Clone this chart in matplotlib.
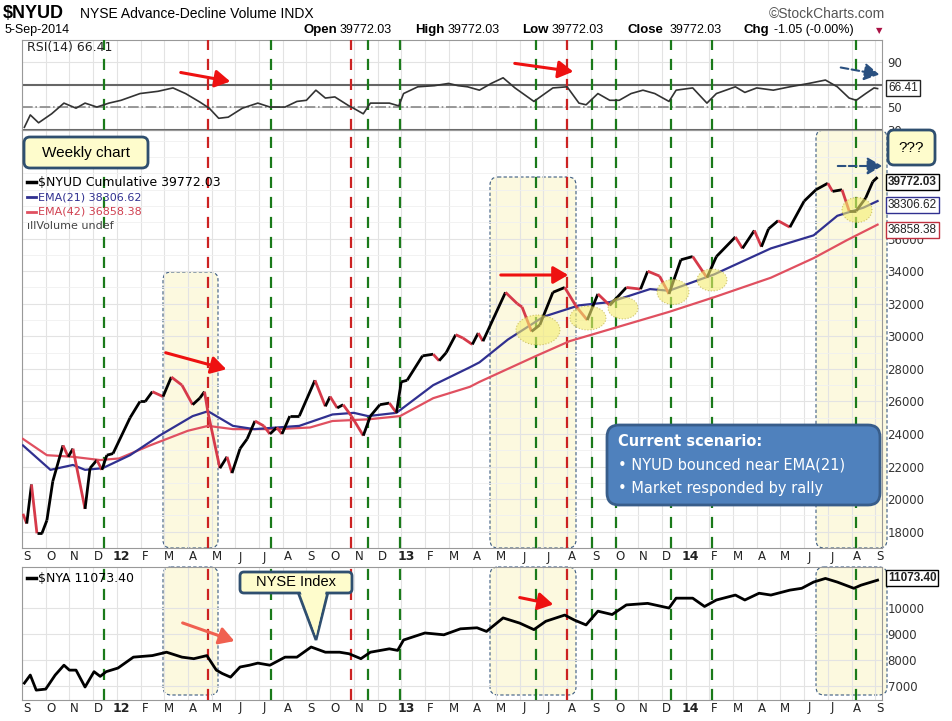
import matplotlib
matplotlib.use("Agg")
import matplotlib.pyplot as plt
from matplotlib.collections import LineCollection
from matplotlib.patches import FancyBboxPatch, Ellipse, Polygon, FancyArrowPatch

# ---- data (t = months since 1-Sep-2011) ----
rsi_t = [0.1,0.35,0.7,1.25,1.77,2.28,2.66,3.16,3.67,4.18,4.98,5.74,6.37,6.9,7.5,7.9,8.3,8.7,9.3,9.95,10.46,11.1,11.6,12.0,12.4,12.8,13.2,13.8,13.9,14.4,14.7,15.5,15.9,16.1,16.7,17.4,18.0,18.4,18.8,19.3,19.8,20.3,20.8,21.6,22.4,23.0,23.5,23.8,24.3,24.8,25.2,25.7,26.2,26.7,27.3,27.6,28.3,28.9,29.3,30.1,30.5,31.0,31.7,32.4,33.2,33.9,34.4,34.9,35.2,35.6,35.95,36.1]
rsi_v = [32,43,36,44,53.5,49,53.5,50,53.5,56,62,64,67,62,54.5,49,40,41,49,53.5,50,50,55,56,65,58,59,51,50,44,53.5,53.5,51,62,68,69,71,69,68,65,71,76,67,55,67,68,53.5,52,62,56,56,62,65,62,55,65,67,53.5,62,68,63,67,65,68,71,74,68,58,56,62,67,66.41]

nyud_t = [0.04,0.2,0.4,0.63,0.84,1.05,1.3,1.73,1.95,2.15,2.66,2.87,3.16,3.37,3.58,3.84,4.56,4.98,5.2,5.5,5.95,6.3,6.75,7.2,7.5,7.7,7.85,8.35,8.65,8.86,9.2,9.5,9.83,10.2,10.46,10.75,10.97,11.3,11.7,12.36,12.8,13.0,13.3,13.55,13.9,14.4,14.7,15.1,15.5,15.8,16.0,16.25,16.9,17.35,17.6,17.9,18.3,18.6,19.0,19.25,19.45,20.4,20.9,21.1,21.5,21.85,22.4,22.9,23.4,23.85,24.3,24.8,25.5,26.1,26.4,26.9,27.3,27.8,28.3,28.9,29.3,30.1,30.4,30.9,31.2,31.5,31.9,32.4,33.0,33.5,34.0,34.2,34.6,34.9,35.2,35.6,35.9,36.1]
nyud_v = [19100,18500,20900,17900,17900,18700,21100,23300,22600,23100,19400,21900,22400,21800,22700,22800,25000,26000,26000,26600,26300,27500,27000,25800,26200,26600,25300,21900,22600,21600,23100,23700,24800,24500,24000,24400,24000,25100,25100,27300,25700,26300,25600,25800,25100,23900,25100,25800,25900,25300,27200,27300,28800,28900,28500,29000,30100,29900,29500,30200,29700,32700,32000,31800,30300,30700,32700,33000,31800,31000,32600,31900,33000,32900,34000,33700,32600,34700,34900,33600,34900,36100,35400,36500,35500,36600,37100,36700,38300,39000,39400,38900,39000,37700,37700,38500,39500,39772.03]

ema21_t = [0.04,1.2,2.15,2.66,3.4,4.56,5.8,7.2,7.85,8.9,9.8,11.7,13.1,14.0,14.6,15.8,17.35,18.9,19.3,20.5,22.0,23.5,24.8,26.5,27.3,29.2,31.6,33.4,34.4,35.5,36.1]
ema21_v = [23300,21800,22100,21800,21900,22700,23900,25100,25400,24500,24300,24500,25200,25300,25100,25300,27000,28100,28400,29800,31200,31900,32100,32900,32800,33800,35400,36200,37400,37900,38306.62]

ema42_t = [0.04,1.05,2.15,3.3,4.1,5.4,7.0,7.85,8.9,10.75,12.15,13.1,14.6,15.95,17.35,18.9,19.3,21.7,23.1,25.2,27.3,29.2,31.6,33.4,34.8,36.1]
ema42_v = [23700,22700,22600,22400,22500,23300,24200,24500,24300,24300,24400,24800,24900,25100,26200,26900,27200,28800,29700,30600,31500,32400,33600,34800,35900,36858.38]

nya_t = [0.1,0.35,0.6,1.0,1.4,1.77,2.0,2.28,2.66,3.04,3.3,3.55,4.05,4.7,5.5,6.1,6.75,7.25,7.8,8.2,8.45,8.8,9.2,9.6,9.95,10.46,11.1,11.6,12.2,12.8,13.4,13.8,14.3,14.7,15.5,15.85,16.1,17.0,17.8,18.5,19.2,19.6,20.3,21.0,21.6,22.1,22.9,23.3,23.8,24.3,24.9,25.5,26.4,27.3,27.6,28.3,28.8,29.3,30.1,30.5,31.1,31.6,32.4,32.9,33.4,33.9,34.4,35.1,35.4,36.1]
nya_v = [7110,7420,6840,6880,7420,7800,7610,7610,6960,7550,7370,7550,7690,8110,8170,8300,8110,8050,8170,7610,7480,7340,7730,7800,7880,7800,8110,8110,8500,8300,8300,8240,8050,8300,8430,8370,8770,9040,8970,9200,9240,9100,9620,9420,9170,9490,9730,9540,9350,9880,9750,10120,10180,10000,10380,10380,10060,10310,10500,10310,10570,10500,10690,10760,11000,11140,11000,10760,10880,11073.40]

month_labels = ["S","O","N","D","12","F","M","A","M","J","J","A","S","O","N","D","13","F","M","A","M","J","J","A","S","O","N","D","14","F","M","A","M","J","J","A","S"]
green_lines = [3.48,10.5,14.6,15.93,21.67,24.05,25.07,27.4,29.1,35.2]
red_lines = [7.85,13.9,23.0]
rsi_ticks = [30,50,90]
nyud_ticks = [18000,20000,22000,24000,26000,28000,30000,32000,34000,36000]
nya_ticks = [7000,8000,9000,10000]

W, H = 952, 721
fig = plt.figure(figsize=(W/100, H/100), dpi=100)
X0, X1 = 22, 882
TMAX = (X1 - X0) / 23.7

bg = fig.add_axes([0, 0, 1, 1], zorder=0)
bg.set_xlim(0, W); bg.set_ylim(H, 0); bg.axis("off")

def ax_at(y0, y1):
    a = fig.add_axes([X0/W, 1-y1/H, (X1-X0)/W, (y1-y0)/H], zorder=2)
    a.patch.set_alpha(0)
    return a

ax_r = ax_at(40, 130)
ax_m = ax_at(130, 548)
ax_n = ax_at(567, 700)
GRID = "#e3e3e3"
for a, lo, hi, ticks in [(ax_r, 29.6, 109.6, rsi_ticks), (ax_m, 17330, 42670, nyud_ticks), (ax_n, 6460, 11580, nya_ticks)]:
    a.set_xlim(0, TMAX); a.set_ylim(lo, hi)
    a.set_xticks(range(0, 37)); a.set_xticklabels([])
    a.tick_params(axis="x", length=0)
    a.yaxis.tick_right()
    a.set_yticks(ticks)
    a.set_yticklabels([str(t) for t in ticks], fontsize=8.5, color="#333333")
    a.tick_params(axis="y", length=0, pad=4)
    a.grid(True, color=GRID, lw=0.8)
    for s in a.spines.values():
        s.set_color("#999999"); s.set_linewidth(0.8)
    for g in green_lines:
        a.axvline(g, color="#1a7a1a", ls=(0, (5, 4)), lw=1.6, zorder=3)
    for r in red_lines:
        a.axvline(r, color="#cc2222", ls=(0, (5, 4)), lw=1.6, zorder=3)
ax_m.set_yticks([17000+i*1000 for i in range(26)], minor=True)
ax_m.tick_params(axis="y", which="minor", length=0)
ax_m.grid(True, which="minor", axis="y", color="#f0f0f0", lw=0.6)

ax_r.plot(rsi_t, rsi_v, color="#333333", lw=1.2, zorder=4)
ax_r.axhline(70, color="#666666", lw=1.5, zorder=2)
ax_r.axhline(30, color="#666666", lw=1.5, zorder=2)
ax_r.axhline(50, color="#888888", lw=1.2, ls="-.", zorder=2)

def updown(ax, t, v, lw):
    segs = [[(t[i], v[i]), (t[i+1], v[i+1])] for i in range(len(t)-1)]
    cols = ["#d63a4a" if v[i+1] < v[i] else "black" for i in range(len(t)-1)]
    ax.add_collection(LineCollection(segs, colors=cols, linewidths=lw, zorder=5))

ax_m.plot(ema42_t, ema42_v, color="#e05060", lw=1.6, zorder=4)
ax_m.plot(ema21_t, ema21_v, color="#303090", lw=1.6, zorder=4)
updown(ax_m, nyud_t, nyud_v, 2.0)
ax_n.plot(nya_t, nya_v, color="black", lw=2.0, zorder=5)

ov = fig.add_axes([0, 0, 1, 1], zorder=10)
ov.set_xlim(0, W); ov.set_ylim(H, 0); ov.axis("off"); ov.patch.set_alpha(0)
def px(t): return X0 + t * 23.7

for i, lab in enumerate(month_labels):
    bold = lab.isdigit()
    for yy in (557, 708):
        ov.text(px(i) + 5, yy, lab, ha="center", va="center", fontsize=9 if bold else 8.5,
                fontweight="bold" if bold else "normal", color="#222222")

def sbox(x0, x1, y0, y1):
    bg.add_patch(FancyBboxPatch((x0, y0), x1-x0, y1-y0, boxstyle="round,pad=0,rounding_size=8",
                 fc="#fcf9df", ec="#3a5a80", ls=(0, (3, 2)), lw=0.8, zorder=1))
sbox(163, 218, 272, 548); sbox(163, 218, 567, 695)
sbox(490, 576, 177, 548); sbox(490, 576, 567, 695)
sbox(816, 887, 130, 548); sbox(816, 887, 567, 695)

for (cx, cy, w, h) in [(538,330,44,30),(588,318,36,24),(623,308,30,22),(673,292,32,25),(712,280,30,22),(857,210,30,25)]:
    ov.add_patch(Ellipse((cx, cy), w, h, fc="#f5ee70", ec="#b0a030", ls=":", lw=0.8, alpha=0.6, zorder=2))

def arr(x0, y0, x1, y1, c="#ee1111", ls="-", lw=2.2):
    ov.add_patch(FancyArrowPatch((x0, y0), (x1, y1), arrowstyle="-|>,head_length=6,head_width=3.5",
                 color=c, lw=lw, ls=ls, mutation_scale=1.5, zorder=6))
arr(178, 72, 233, 82); arr(512, 63, 576, 72)
arr(163, 352, 229, 370); arr(498, 275, 571, 275)
arr(180, 622, 237, 642, c="#f06050"); arr(517, 597, 556, 605)
arr(838, 67, 882, 75, c="#2a5080", ls="--", lw=1.5)
arr(835, 166, 885, 166, c="#2a5080", ls="--", lw=1.5)

NARROW = "Liberation Sans"
ov.add_patch(FancyBboxPatch((24, 137), 124, 31, boxstyle="round,pad=0,rounding_size=6", fc="#fefccc", ec="#2f4f6f", lw=2, zorder=7))
ov.text(86, 153, "Weekly chart", ha="center", va="center", fontsize=11, zorder=8, family=NARROW)
ov.add_patch(FancyBboxPatch((888, 130), 47, 35, boxstyle="round,pad=0,rounding_size=6", fc="#fefccc", ec="#2f4f6f", lw=2, zorder=7))
ov.text(911, 148, "???", ha="center", va="center", fontsize=11, zorder=8, family=NARROW)
ov.add_patch(FancyBboxPatch((607, 425), 273, 80, boxstyle="round,pad=0,rounding_size=12", fc="#4f81bd", ec="#385d8a", lw=2, zorder=7))
ov.text(618, 442, "Current scenario:", ha="left", va="center", fontsize=10.5, fontweight="bold", color="white", zorder=8)
ov.text(618, 465, "• NYUD bounced near EMA(21)", ha="left", va="center", fontsize=10.5, color="white", zorder=8)
ov.text(618, 488, "• Market responded by rally", ha="left", va="center", fontsize=10.5, color="white", zorder=8)
ov.add_patch(Polygon([(298, 592), (316, 640), (328, 592)], closed=True, fc="#fefccc", ec="#2f4f6f", lw=2, zorder=7))
ov.add_patch(FancyBboxPatch((240, 572), 112, 21, boxstyle="round,pad=0,rounding_size=4", fc="#fefccc", ec="#2f4f6f", lw=2, zorder=7))
ov.add_patch(Polygon([(300, 590), (316, 636), (326, 590)], closed=True, fc="#fefccc", ec="none", zorder=8))
ov.text(296, 582, "NYSE Index", ha="center", va="center", fontsize=10.5, zorder=9, family=NARROW)

ov.text(3, 14, "$NYUD", fontsize=13, fontweight="bold", va="center", family=NARROW)
ov.text(80, 14, "NYSE Advance-Decline Volume INDX", fontsize=10, va="center", family=NARROW)
ov.text(885, 14, "©StockCharts.com", fontsize=10, va="center", ha="right", color="#555555", family=NARROW)
ov.text(5, 30, "5-Sep-2014", fontsize=9, va="center", family=NARROW)
for x, lab, xv, val in [(303, "Open", 340, "39772.03"), (415, "High", 448, "39772.03"), (522, "Low", 552, "39772.03"),
                        (627, "Close", 670, "39772.03"), (744, "Chg", 774, "-1.05 (-0.00%)")]:
    ov.text(x, 30, lab, fontsize=9.5, fontweight="bold", va="center", family=NARROW)
    ov.text(xv, 30, val, fontsize=9, va="center", family=NARROW)
ov.text(876, 31, "▼", fontsize=6, color="#aa1144", va="center")

ov.text(27, 48, "RSI(14) 66.41", fontsize=9, va="center", color="#222222")
ov.plot([27, 36], [182, 182], color="black", lw=2.5)
ov.text(38, 182, "$NYUD Cumulative 39772.03", fontsize=9, va="center")
ov.plot([27, 36], [197, 197], color="#303090", lw=2)
ov.text(38, 197, "EMA(21) 38306.62", fontsize=8, va="center", color="#303090")
ov.plot([27, 36], [212, 212], color="#e05060", lw=2)
ov.text(38, 212, "EMA(42) 36858.38", fontsize=8, va="center", color="#d04050")
ov.text(27, 226, "ıllVolume undef", fontsize=8, va="center", color="#444444")
ov.plot([27, 36], [578, 578], color="black", lw=2.5)
ov.text(38, 578, "$NYA 11073.40", fontsize=9, va="center")

for y, s, c, bold in [(88, "66.41", "#222222", False), (182, "39772.03", "black", True), (205, "38306.62", "#303090", False),
                      (230, "36858.38", "#c03040", False), (578, "11073.40", "black", True)]:
    ov.text(888, y, s, fontsize=8.5, va="center", ha="left", color="#222222", fontweight="bold" if bold else "normal",
            family=NARROW, bbox=dict(boxstyle="square,pad=0.15", fc="white", ec=c, lw=1), zorder=9)

fig.savefig("out.png", dpi=100)
